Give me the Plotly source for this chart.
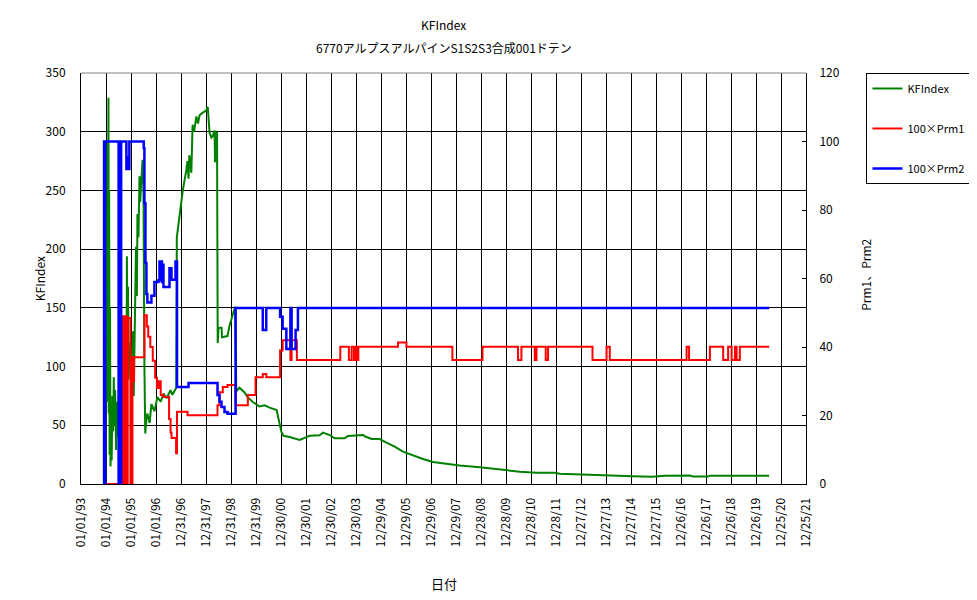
import pandas as pd
import plotly.graph_objects as go

# KFIndex (left axis)
kf_dates = ["1993-12-24", "1993-12-28", "1994-01-02", "1994-01-08", "1994-01-14", "1994-01-20",
            "1994-01-26", "1994-02-06", "1994-02-10", "1994-02-16", "1994-02-22", "1994-03-01",
            "1994-03-08", "1994-03-15", "1994-03-25", "1994-04-05", "1994-04-15", "1994-04-25",
            "1994-05-05", "1994-05-15", "1994-05-28", "1994-06-10", "1994-06-25", "1994-07-10",
            "1994-07-22", "1994-08-05", "1994-08-20", "1994-09-05", "1994-09-20", "1994-10-10",
            "1994-10-28", "1994-11-02", "1994-11-10", "1994-11-18", "1994-11-28", "1994-12-15",
            "1995-01-05", "1995-01-15", "1995-01-28", "1995-02-10", "1995-03-15", "1995-03-28",
            "1995-04-05", "1995-04-20", "1995-05-05", "1995-05-15", "1995-06-18", "1995-07-02",
            "1995-07-16", "1995-07-28", "1995-08-14", "1995-08-28", "1995-09-30", "1995-10-26",
            "1995-12-09", "1996-01-22", "1996-03-10", "1996-04-19", "1996-06-05", "1996-07-31",
            "1996-08-28", "1996-10-23", "1996-10-31", "1996-12-10", "1997-01-26", "1997-03-18",
            "1997-04-05", "1997-04-20", "1997-05-01", "1997-05-31", "1997-06-18", "1997-07-10",
            "1997-08-12", "1997-09-05", "1997-09-28", "1997-11-10", "1998-01-01", "1998-01-26",
            "1998-02-21", "1998-03-20", "1998-04-06", "1998-05-05", "1998-05-12", "1998-05-20",
            "1998-06-01", "1998-06-10", "1998-06-20", "1998-07-02", "1998-08-15", "1998-08-22",
            "1998-11-10", "1998-12-10", "1999-01-10", "1999-02-05", "1999-03-01", "1999-03-18",
            "1999-05-04", "1999-07-17", "1999-08-30", "1999-11-10", "2000-02-21", "2000-05-05",
            "2000-07-17", "2000-10-27", "2000-11-26", "2001-01-04", "2001-02-06", "2001-05-05",
            "2001-09-28", "2001-12-10", "2002-02-21", "2002-07-17", "2002-09-03", "2002-12-10",
            "2003-02-21", "2003-07-17", "2003-09-03", "2004-04-10", "2004-05-31", "2004-08-15",
            "2004-12-10", "2005-03-19", "2005-07-17", "2005-11-15", "2006-04-10", "2006-09-03",
            "2007-01-26", "2007-08-12", "2008-02-21", "2008-12-10", "2009-09-28", "2010-07-17",
            "2011-03-18", "2011-12-10", "2012-02-21", "2012-12-10", "2013-09-28", "2015-01-23",
            "2015-10-27", "2016-05-05", "2017-05-05", "2017-06-20", "2018-01-23", "2018-02-21",
            "2020-07-05"]
kf_values = [0, 120, 40, 230, 70, 290,
             150, 329, 60, 250, 25, 150,
             15, 60, 20, 75, 45, 91,
             50, 80, 29, 70, 40, 85,
             5, 37, 60, 88, 65, 80,
             70, 194, 120, 168, 89, 120,
             103, 60, 130, 75, 202, 160,
             230, 210, 262, 240, 276, 250,
             100, 43, 55, 60, 52, 68,
             62, 74, 70, 77, 73, 80,
             76, 82, 210, 231, 250, 267,
             275, 260, 280, 265, 306, 300,
             313, 307, 314, 316, 318, 321,
             299, 295, 296, 301, 274, 301,
             275, 300, 120, 133, 133, 125,
             126, 135, 142, 148, 151, 79,
             82, 78, 74, 70, 66, 67,
             65, 63, 54.5, 44.6, 41, 40,
             37.5, 39, 41, 41.5, 43.7, 41.7,
             38.9, 38.9, 40.9, 41.7, 40, 38.3,
             38.3, 35.2, 31.8, 27.5, 24.1, 21.3,
             18.7, 17, 15.8, 14.2, 12.2, 10.5,
             9.6, 9.6, 8.8, 8.0, 7.4, 6.5,
             6.2, 7.0, 7.2, 6.3, 6.3, 7.1,
             7.1]

# 100xPrm1 (right axis, step)
prm1_dates = ["1993-12-25", "1994-08-28", "1994-09-05", "1994-09-12", "1994-09-20", "1994-09-28",
              "1994-10-06", "1994-10-14", "1994-10-22", "1994-10-30", "1994-11-06", "1994-11-14",
              "1994-12-24", "1995-01-22", "1995-02-05", "1995-02-15", "1995-07-16", "1995-08-20",
              "1995-09-10", "1995-10-10", "1995-11-15", "1995-12-20", "1996-01-15", "1996-02-10",
              "1996-03-10", "1996-04-20", "1996-07-10", "1996-08-01", "1996-08-15", "1996-10-20",
              "1996-11-03", "1997-04-05", "1998-06-17", "1998-07-16", "1998-09-02", "1998-11-10",
              "1999-03-08", "1999-09-03", "1999-12-24", "2000-04-08", "2000-05-29", "2000-12-17",
              "2001-01-23", "2001-05-16", "2001-06-03", "2001-08-19", "2003-05-15", "2003-09-17",
              "2003-10-27", "2003-11-29", "2003-12-24", "2004-01-12", "2004-02-02", "2005-09-03",
              "2006-01-04", "2007-11-06", "2009-01-19", "2010-06-21", "2010-08-10", "2011-02-21",
              "2011-03-18", "2011-07-31", "2011-09-03", "2013-06-13", "2014-01-04", "2014-02-20",
              "2017-03-18", "2017-04-23", "2018-02-21", "2018-09-03", "2018-11-14", "2019-01-04",
              "2019-02-21", "2019-03-18", "2019-05-04", "2020-07-05"]
prm1_values = [0, 49, 0, 49, 0, 48,
               0, 49, 0, 49, 0, 48.5,
               0, 37, 30, 37, 49.3, 46,
               43, 40, 36, 31, 28, 30,
               26, 25.4, 19, 15, 13.4, 9,
               21.1, 20.1, 23, 26.8, 28.3, 28.9,
               23, 26, 31.2, 32.1, 31.2, 39,
               42, 36.2, 42, 36.2, 40.1, 36.2,
               40.1, 36.2, 40.1, 36.2, 40.1, 41.3,
               40.1, 36.2, 40.1, 36.2, 40.1, 36.2,
               40.1, 36.2, 40.1, 36.2, 40.1, 36.2,
               40.1, 36.2, 40.1, 36.2, 40.1, 36.2,
               40.1, 36.2, 40.1, 40.1]

# 100xPrm2 (right axis, step)
prm2_dates = ["1993-11-24", "1993-12-04", "1993-12-12", "1993-12-20", "1994-07-04", "1994-07-12",
              "1994-07-20", "1994-08-10", "1994-10-26", "1994-11-10", "1994-11-20", "1994-12-08",
              "1995-07-06", "1995-07-16", "1995-07-31", "1995-08-14", "1995-08-28", "1995-10-26",
              "1995-12-09", "1996-02-06", "1996-02-21", "1996-03-28", "1996-04-04", "1996-04-19",
              "1996-07-16", "1996-08-14", "1996-10-12", "1996-11-03", "1997-04-20", "1998-06-17",
              "1998-07-16", "1998-08-14", "1998-09-27", "1998-11-10", "1999-03-08", "2000-04-08",
              "2000-05-29", "2000-12-17", "2001-01-23", "2001-03-18", "2001-05-16", "2001-06-03",
              "2001-07-31", "2001-09-03", "2020-07-05"]
prm2_values = [0, 100, 0, 100, 0, 100,
               0, 100, 92, 95.5, 92, 100,
               98, 82, 64.5, 55.5, 53, 55,
               59, 59.5, 65, 59, 64, 57.5,
               63, 59.6, 65, 28.3, 29.5, 26,
               24, 22.5, 21, 20.5, 51.4, 45,
               51.4, 48.8, 45.3, 39.4, 51.4, 39.4,
               45, 51.4, 51.4]

tick_dates = pd.date_range("1993-01-01", periods=30, freq="365D")
tick_text = [d.strftime("%m/%d/%y") for d in tick_dates]

font = "Noto Sans CJK JP"

fig = go.Figure()
fig.add_trace(go.Scatter(x=kf_dates, y=kf_values, mode="lines", name="KFIndex",
                         line=dict(color="#008000", width=2), legendgroup="a"))
fig.add_trace(go.Scatter(x=prm1_dates, y=prm1_values, mode="lines", name="100×Prm1",
                         line=dict(color="#ff0000", width=2, shape="hv"), yaxis="y2", legendgroup="b"))
fig.add_trace(go.Scatter(x=prm2_dates, y=prm2_values, mode="lines", name="100×Prm2",
                         line=dict(color="#0000ff", width=2.5, shape="hv"), yaxis="y2", legendgroup="c"))

# page body has an 8px margin, so shift the plot up/left by 8px
fig.update_layout(
    width=977, height=584,
    margin=dict(l=73, r=179, t=65, b=108),
    paper_bgcolor="white", plot_bgcolor="white",
    font=dict(family=font, size=12, color="black"),
    xaxis=dict(type="date", range=[tick_dates[0], tick_dates[-1]],
               tickvals=tick_dates, ticktext=tick_text, tickangle=-90,
               showgrid=True, gridcolor="black", gridwidth=1,
               showline=True, linecolor="black", linewidth=1,
               ticks="", zeroline=False, ticklabelstandoff=8,
               tickfont=dict(size=12)),
    yaxis=dict(range=[0, 350], dtick=50, showgrid=True, gridcolor="black", gridwidth=1,
               showline=True, linecolor="black", linewidth=1, ticks="",
               zeroline=False, ticklabelstandoff=12),
    yaxis2=dict(range=[0, 120], dtick=20, overlaying="y", side="right", showgrid=False,
                showline=True, linecolor="black", linewidth=1, ticks="inside",
                ticklen=4, tickcolor="black", zeroline=False, ticklabelstandoff=10),
    legend=dict(x=1.0834, y=1.0, xanchor="left", yanchor="top",
                bordercolor="black", borderwidth=1, bgcolor="white",
                font=dict(size=11), tracegroupgap=21, itemwidth=30),
    showlegend=True,
)

fig.add_shape(type="line", xref="paper", yref="paper", x0=0, x1=1, y0=1, y1=1,
              line=dict(color="#808080", width=1))

fig.add_annotation(text="KFIndex", xref="paper", yref="paper", x=0.5, y=1.117,
                   xanchor="center", yanchor="middle", showarrow=False, font=dict(size=12))
fig.add_annotation(text="6770アルプスアルパインS1S2S3合成001ドテン", xref="paper", yref="paper",
                   x=0.5, y=1.063, xanchor="center", yanchor="middle", showarrow=False,
                   font=dict(size=12))
fig.add_annotation(text="日付", xref="paper", yref="paper", x=0.5, y=-0.241,
                   xanchor="center", yanchor="middle", showarrow=False, font=dict(size=13))
fig.add_annotation(text="KFIndex", xref="paper", yref="paper", x=-0.057, y=0.5,
                   xanchor="center", yanchor="middle", textangle=-90, showarrow=False,
                   font=dict(size=12))
fig.add_annotation(text="Prm1、Prm2", xref="paper", yref="paper", x=1.082, y=0.51,
                   xanchor="center", yanchor="middle", textangle=-90, showarrow=False,
                   font=dict(size=12))

fig.write_html("out.html")
